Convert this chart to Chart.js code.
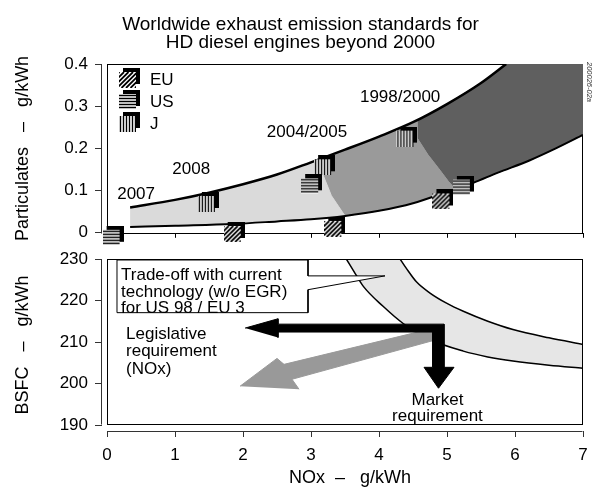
<!DOCTYPE html>
<html>
<head>
<meta charset="utf-8">
<script src="https://cdn.jsdelivr.net/npm/chart.js@4.4.1/dist/chart.umd.min.js"></script>
<style>
  html, body { margin: 0; padding: 0; background: #fff; }
  #wrap { position: relative; width: 599px; height: 487px; overflow: hidden; }
  #pmChart { position: absolute; left: 0; top: 0; }
  #bsfcChart { position: absolute; left: 0; top: 235px; }
</style>
</head>
<body>
<div id="wrap">
  <canvas id="pmChart" width="599" height="250"></canvas>
  <canvas id="bsfcChart" width="599" height="252"></canvas>
</div>
<script>
// ---- data ----
const titleLines = ['Worldwide exhaust emission standards for', 'HD diesel engines beyond 2000'];
const xTicks = [0, 1, 2, 3, 4, 5, 6, 7];
const pmTicks = [0, 0.1, 0.2, 0.3, 0.4];
const pmTickLabels = ['0', '0.1', '0.2', '0.3', '0.4'];
const bsfcTicks = [190, 200, 210, 220, 230];

// particulate / NOx band (top chart)
const pmUpperX = [0.34, 1.0, 1.5, 2.0, 2.5, 3.0, 3.5, 4.0, 4.5, 5.0, 5.5, 5.87];
const pmUpperY = [0.060, 0.078, 0.095, 0.115, 0.138, 0.167, 0.197, 0.228, 0.262, 0.305, 0.355, 0.400];
const pmLowerX = [0.34, 1.0, 1.85, 2.5, 3.0, 3.5, 4.0, 4.5, 5.0, 5.38, 5.74, 6.22, 6.6, 7.0];
const pmLowerY = [0.014, 0.017, 0.021, 0.027, 0.032, 0.040, 0.052, 0.070, 0.097, 0.118, 0.142, 0.172, 0.200, 0.232];
// boundaries between the 2007/08, 2004/05 and 1998/2000 zones
const step1X = [3.28, 3.17, 3.30, 3.50];
const step1Y = [0.184, 0.140, 0.088, 0.040];
const step2X = [4.56, 4.56, 4.72, 4.88, 5.02, 5.12];
const step2Y = [0.267, 0.225, 0.185, 0.152, 0.122, 0.104];

// standards markers
const euX = [1.87, 3.35, 4.94];
const euY = [0.002, 0.014, 0.079];
const usX = [0.09, 3.01, 5.24];
const usY = [-0.007, 0.115, 0.112];
const jX = [1.49, 3.20, 4.41];
const jY = [0.073, 0.160, 0.228];
const legendNames = ['EU', 'US', 'J'];

const yearLabels = ['2007', '2008', '2004/2005', '1998/2000'];
const yearLabelX = [0.15, 0.96, 2.35, 3.72];
const yearLabelY = [0.092, 0.151, 0.237, 0.322];

// BSFC trade-off band (bottom chart)
const bandUpperX = [4.31, 4.40, 4.55, 4.75, 5.00, 5.24, 5.60, 5.97, 6.50, 7.00];
const bandUpperY = [230.0, 227.8, 224.5, 221.8, 219.3, 217.4, 215.0, 213.0, 211.0, 209.4];
const bandLowerX = [3.52, 3.65, 3.77, 4.06, 4.36, 4.75, 5.24, 5.60, 5.97, 6.50, 7.00];
const bandLowerY = [230.0, 226.5, 223.4, 218.6, 214.4, 210.6, 207.8, 206.4, 205.4, 204.4, 203.7];

// callout box and arrows
const calloutX = [0.147, 2.956, 2.956, 4.088, 2.956, 2.956, 0.147, 0.147];
const calloutY = [229.76, 229.76, 225.93, 225.93, 222.6, 217.07, 217.07, 229.76];
const calloutLines = ['Trade-off with current', 'technology (w/o EGR)', 'for US 98 / EU 3'];
const calloutTextX = 0.206;
const calloutTextY = [224.85, 220.9, 216.95];

const blackArrowX = [2.03, 2.515, 2.515, 4.956, 4.956, 5.103, 4.875, 4.662, 4.787, 4.787, 2.515, 2.515];
const blackArrowY = [213.35, 215.6, 214.3, 214.3, 203.9, 203.9, 198.86, 203.9, 203.9, 212.4, 212.4, 211.08];
const grayArrowX = [1.956, 2.50, 2.603, 4.779, 4.853, 2.721, 2.824];
const grayArrowY = [199.34, 206.05, 204.61, 213.23, 210.6, 201.02, 198.62];

const legisLines = ['Legislative', 'requirement', '(NOx)'];
const legisX = 0.28;
const legisY = [210.72, 206.53, 202.34];
const marketLines = ['Market', 'requirement'];
const marketX = 4.86;
const marketY = [194.79, 191.03];

const FONT = "'Liberation Sans', Arial, Helvetica, sans-serif";
Chart.defaults.font.family = FONT;
Chart.defaults.font.size = 17;
Chart.defaults.color = '#000';

function pts(xs, ys) {
  return xs.map((x, i) => ({ x: x, y: ys[i] }));
}

// small patterned squares used as point styles
function makeMarker(kind) {
  const c = document.createElement('canvas');
  c.width = 21;
  c.height = 20;
  const g = c.getContext('2d');
  g.fillStyle = '#000';
  g.fillRect(4, 0, 17, 16);
  g.fillStyle = '#fff';
  g.fillRect(0, 4, 17, 16);
  g.save();
  g.beginPath();
  g.rect(0, 4, 17, 16);
  g.clip();
  g.strokeStyle = '#000';
  g.beginPath();
  if (kind === 'EU') {
    g.lineWidth = 1.8;
    for (let k = -20; k < 40; k += 4.5) { g.moveTo(k, 20); g.lineTo(k + 16, 4); }
  } else if (kind === 'US') {
    g.lineWidth = 1.4;
    for (let y = 5.5; y < 20; y += 3) { g.moveTo(0, y); g.lineTo(17, y); }
  } else {
    g.lineWidth = 1.4;
    for (let x = 1.5; x < 17; x += 3) { g.moveTo(x, 4); g.lineTo(x, 20); }
  }
  g.stroke();
  g.restore();
  return c;
}
const markers = { EU: makeMarker('EU'), US: makeMarker('US'), J: makeMarker('J') };

const upper = pts(pmUpperX, pmUpperY);
const lower = pts(pmLowerX, pmLowerY);
const b1 = pts(step1X, step1Y);
const b2 = pts(step2X, step2Y);
const X_MAX = xTicks[xTicks.length - 1];
const PM_MAX = pmTicks[pmTicks.length - 1];

const lightPoly = [
  ...upper.filter(p => p.x < b1[0].x),
  ...b1,
  ...lower.filter(p => p.x < b1[b1.length - 1].x).reverse()
];
const mediumPoly = [
  b1[0],
  ...upper.filter(p => p.x > b1[0].x && p.x < b2[0].x),
  ...b2,
  ...lower.filter(p => p.x > b1[b1.length - 1].x && p.x < b2[b2.length - 1].x).reverse(),
  ...b1.slice().reverse()
];
const darkPoly = [
  b2[0],
  ...upper.filter(p => p.x > b2[0].x),
  { x: X_MAX, y: PM_MAX },
  ...lower.filter(p => p.x > b2[b2.length - 1].x).reverse(),
  ...b2.slice().reverse()
];

function zone(data, color) {
  return {
    data: data, fill: 'shape', backgroundColor: color, borderColor: color,
    borderWidth: 1, pointRadius: 0, tension: 0, order: 10
  };
}
function curve(data, width) {
  return {
    data: data, borderColor: '#000', borderWidth: width, pointRadius: 0,
    cubicInterpolationMode: 'monotone', fill: false, order: 5
  };
}
function markerSet(name, xs, ys) {
  return {
    label: name, data: pts(xs, ys), showLine: false, pointStyle: markers[name],
    pointRadius: 10, clip: false, order: 1
  };
}

function setTicks(values) {
  return scale => { scale.ticks = values.map(v => ({ value: v })); };
}

function line(ctx, x1, y1, x2, y2) {
  ctx.beginPath();
  ctx.moveTo(x1, y1);
  ctx.lineTo(x2, y2);
  ctx.stroke();
}

const xMinVal = -5 / 68; // x axis line sits a few pixels left of NOx = 0

// ---- top chart: particulates ----
const pmFrame = {
  id: 'pmFrame',
  beforeDatasetsDraw(chart) {
    const { ctx, chartArea, scales: { x, y } } = chart;
    const l = Math.round(x.getPixelForValue(0)) + 0.5;
    const r = Math.round(x.getPixelForValue(X_MAX)) - 0.5;
    const t = Math.round(y.getPixelForValue(PM_MAX)) + 0.5;
    const b = Math.round(y.getPixelForValue(0)) + 0.5;
    ctx.save();
    ctx.strokeStyle = '#000';
    ctx.lineWidth = 1;
    ctx.strokeRect(l, t, r - l, b - t);
    ctx.strokeStyle = '#333';
    const ax = Math.round(chartArea.left) - 0.5;
    line(ctx, ax, t, ax, b);
    ctx.restore();
  },
  afterDatasetsDraw(chart) {
    const { ctx, chartArea, scales: { x, y } } = chart;
    ctx.save();
    ctx.fillStyle = '#000';
    // title, centred on the whole page
    ctx.font = '19px ' + FONT;
    ctx.textAlign = 'center';
    ctx.textBaseline = 'middle';
    titleLines.forEach((t, i) => ctx.fillText(t, chart.width / 2 + 1, 24.5 + i * 18.5));

    ctx.font = '17px ' + FONT;
    ctx.textAlign = 'left';
    yearLabels.forEach((t, i) => {
      ctx.fillText(t, x.getPixelForValue(yearLabelX[i]), y.getPixelForValue(yearLabelY[i]));
    });
    // legend
    legendNames.forEach((n, i) => {
      const top = chartArea.top + 4 + i * 22;
      ctx.drawImage(markers[n], chartArea.left + 17, top);
      ctx.fillText(n, chartArea.left + 48, top + 12);
    });
    // figure number
    ctx.font = 'italic 7.5px ' + FONT;
    ctx.fillStyle = '#333';
    ctx.translate(chartArea.right + 6, chartArea.top - 2);
    ctx.rotate(Math.PI / 2);
    ctx.fillText('200026-02a', 0, 0);
    ctx.restore();
  }
};

new Chart(document.getElementById('pmChart'), {
  type: 'line',
  data: {
    datasets: [
      markerSet('EU', euX, euY),
      markerSet('US', usX, usY),
      markerSet('J', jX, jY),
      curve(upper, 2.5),
      curve(lower, 2),
      zone(lightPoly, '#dadada'),
      zone(mediumPoly, '#9a9a9a'),
      zone(darkPoly, '#5f5f5f')
    ]
  },
  options: {
    responsive: false,
    animation: false,
    events: [],
    layout: { padding: { left: 0, right: 16, top: 64, bottom: 0 } },
    plugins: {
      legend: { display: false },
      tooltip: { enabled: false },
      title: { display: false }
    },
    scales: {
      x: {
        type: 'linear', min: xMinVal, max: X_MAX,
        afterBuildTicks: setTicks(xTicks),
        afterFit: s => { s.height = 17; },
        ticks: { display: false },
        grid: { drawOnChartArea: false, tickLength: 5, color: '#000' },
        border: { display: false }
      },
      y: {
        min: 0, max: PM_MAX,
        afterBuildTicks: setTicks(pmTicks),
        afterFit: s => { s.width = 102; },
        ticks: { padding: 7, callback: (v, i) => pmTickLabels[i] },
        grid: { drawOnChartArea: false, tickLength: 7, color: '#333' },
        border: { display: false },
        title: { display: true, text: 'Particulates   \u2013   g/kWh', font: { size: 18 }, padding: { top: 12, bottom: 0 } }
      }
    }
  },
  plugins: [pmFrame]
});

// ---- bottom chart: BSFC ----
const BSFC_MIN = bsfcTicks[0];
const BSFC_MAX = bsfcTicks[bsfcTicks.length - 1];

const bsfcFrame = {
  id: 'bsfcFrame',
  afterDatasetsDraw(chart) {
    const { ctx, chartArea, scales: { x, y } } = chart;
    const l = Math.round(x.getPixelForValue(0)) + 0.5;
    const r = Math.round(x.getPixelForValue(X_MAX)) - 0.5;
    const t = Math.round(y.getPixelForValue(BSFC_MAX)) + 0.5;
    const b = Math.round(y.getPixelForValue(BSFC_MIN)) - 0.5;
    ctx.save();
    ctx.strokeStyle = '#000';
    ctx.lineWidth = 1;
    ctx.strokeRect(l, t, r - l, b - t);
    ctx.strokeStyle = '#333';
    const ax = Math.round(chartArea.left) - 0.5;
    line(ctx, ax, t, ax, b);
    const ay = Math.round(chartArea.bottom) + 0.5;
    line(ctx, l, ay, r, ay);

    ctx.fillStyle = '#000';
    ctx.font = '17px ' + FONT;
    ctx.textBaseline = 'alphabetic';
    ctx.textAlign = 'left';
    calloutLines.forEach((t2, i) => {
      ctx.fillText(t2, x.getPixelForValue(calloutTextX), y.getPixelForValue(calloutTextY[i]));
    });
    legisLines.forEach((t2, i) => {
      ctx.fillText(t2, x.getPixelForValue(legisX), y.getPixelForValue(legisY[i]));
    });
    ctx.textAlign = 'center';
    marketLines.forEach((t2, i) => {
      ctx.fillText(t2, x.getPixelForValue(marketX), y.getPixelForValue(marketY[i]));
    });
    ctx.restore();
  }
};

const bandUpper = pts(bandUpperX, bandUpperY);
const bandLower = pts(bandLowerX, bandLowerY);
const bandPoly = [...bandLower, ...bandUpper.slice().reverse()];

new Chart(document.getElementById('bsfcChart'), {
  type: 'line',
  data: {
    datasets: [
      { data: pts(blackArrowX, blackArrowY), fill: 'shape', backgroundColor: '#000', borderColor: '#000', borderWidth: 1, pointRadius: 0, tension: 0, order: 2 },
      { data: pts(grayArrowX, grayArrowY), fill: 'shape', backgroundColor: '#999', borderColor: '#999', borderWidth: 1, pointRadius: 0, tension: 0, order: 3 },
      { data: pts(calloutX, calloutY), fill: 'shape', backgroundColor: '#fff', borderColor: '#000', borderWidth: 1, pointRadius: 0, tension: 0, order: 4 },
      curve(bandUpper, 1.5),
      curve(bandLower, 1.5),
      zone(bandPoly, '#e6e6e6')
    ]
  },
  options: {
    responsive: false,
    animation: false,
    events: [],
    layout: { padding: { left: 0, right: 16, top: 24, bottom: 0 } },
    plugins: { legend: { display: false }, tooltip: { enabled: false } },
    scales: {
      x: {
        type: 'linear', min: xMinVal, max: X_MAX,
        afterBuildTicks: setTicks(xTicks),
        afterFit: s => { s.height = 56; },
        ticks: { padding: 8 },
        grid: { drawOnChartArea: false, tickLength: 6, color: '#333' },
        border: { display: false },
        title: { display: true, text: '   NOx  \u2013   g/kWh', font: { size: 18, lineHeight: 1 }, padding: { top: 0, bottom: 0 } }
      },
      y: {
        min: BSFC_MIN - 6 / 4.15, max: BSFC_MAX,
        afterBuildTicks: setTicks(bsfcTicks),
        afterFit: s => { s.width = 102; },
        ticks: { padding: 7 },
        grid: { drawOnChartArea: false, tickLength: 7, color: '#333' },
        border: { display: false },
        title: { display: true, text: 'BSFC   \u2013   g/kWh', font: { size: 18 }, padding: { top: 12, bottom: 0 } }
      }
    }
  },
  plugins: [bsfcFrame]
});
</script>
</body>
</html>
